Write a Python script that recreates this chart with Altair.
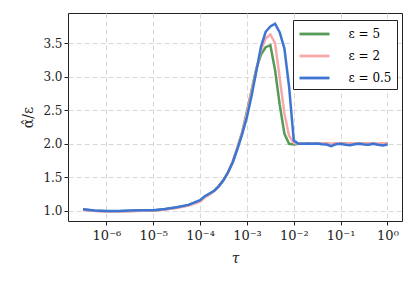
import altair as alt
import pandas as pd

# log10(tau) sample points
log_tau = [-6.5, -6.25, -6.0, -5.75, -5.5, -5.25, -5.0, -4.75, -4.5, -4.25,
           -4.0, -3.9, -3.8, -3.7, -3.6, -3.5, -3.4, -3.3, -3.2, -3.1,
           -3.0, -2.9, -2.8, -2.7, -2.6, -2.5, -2.4, -2.3, -2.2, -2.1,
           -2.0, -1.9, -1.8, -1.7, -1.6, -1.5, -1.4, -1.3, -1.2, -1.1,
           -1.0, -0.9, -0.8, -0.7, -0.6, -0.5, -0.4, -0.3, -0.2, -0.1, 0.0]

eps5 = [1.02, 1.003, 0.997, 0.997, 1.0, 1.005, 1.008, 1.025, 1.05, 1.085,
        1.15, 1.21, 1.25, 1.30, 1.37, 1.46, 1.58, 1.74, 1.95, 2.18,
        2.48, 2.80, 3.12, 3.33, 3.44, 3.47, 3.10, 2.58, 2.15, 2.00,
        1.99, 2.0, 2.005, 2.0, 2.005, 2.0, 2.0, 2.005, 1.995, 2.0,
        2.0, 2.005, 1.995, 2.0, 2.005, 2.0, 2.0, 2.005, 1.995, 2.0, 2.005]

eps2 = [1.015, 0.998, 0.992, 0.993, 0.997, 1.002, 1.005, 1.02, 1.045, 1.08,
        1.14, 1.20, 1.245, 1.295, 1.365, 1.455, 1.575, 1.74, 1.95, 2.17,
        2.45, 2.78, 3.10, 3.40, 3.57, 3.63, 3.50, 2.98, 2.45, 2.12,
        2.01, 2.005, 2.0, 2.01, 2.005, 2.0, 2.01, 2.005, 2.0, 2.01,
        2.005, 2.0, 2.01, 2.005, 2.0, 2.005, 2.01, 2.0, 2.005, 2.01, 2.01]

eps05 = [1.025, 1.008, 1.0, 1.0, 1.005, 1.01, 1.012, 1.03, 1.055, 1.09,
         1.16, 1.22, 1.26, 1.30, 1.37, 1.46, 1.58, 1.73, 1.93, 2.15,
         2.40, 2.72, 3.08, 3.45, 3.67, 3.75, 3.79, 3.66, 3.42, 2.85,
         2.05, 2.0, 2.0, 2.005, 2.0, 2.005, 1.995, 1.99, 1.965, 1.995,
         2.0, 1.985, 1.98, 1.995, 2.0, 1.99, 1.985, 2.0, 1.985, 1.975, 1.99]

series_names = ["ε = 5", "ε = 2", "ε = 0.5"]
series_colors = ["#559A57", "#F7A8A8", "#3E74D2"]

rows = []
for name, vals in zip(series_names, [eps5, eps2, eps05]):
    for lt, v in zip(log_tau, vals):
        rows.append({"tau": 10 ** lt, "ratio": v, "series": name, "order": series_names.index(name)})
df = pd.DataFrame(rows)

sup = {-6: "⁻⁶", -5: "⁻⁵", -4: "⁻⁴", -3: "⁻³", -2: "⁻²", -1: "⁻¹", 0: "⁰"}
expr = "'10' + ("
for k, s in sup.items():
    expr += f"round(log(datum.value)/LN10) == {k} ? '{s}' : "
expr += "'')"

FONT = "DejaVu Serif, Liberation Serif, serif"

chart = alt.Chart(df).mark_line(strokeWidth=2.5, clip=True).encode(
    x=alt.X("tau:Q",
            scale=alt.Scale(type="log", domain=[10 ** -6.82, 10 ** 0.31], nice=False),
            axis=alt.Axis(values=[1e-6, 1e-5, 1e-4, 1e-3, 1e-2, 1e-1, 1],
                          labelExpr=expr, title="τ", titleFontStyle="italic",
                          titlePadding=9, labelFontSize=13, labelPadding=4)),
    y=alt.Y("ratio:Q",
            scale=alt.Scale(domain=[0.85, 3.95], nice=False, zero=False),
            axis=alt.Axis(values=[1.0, 1.5, 2.0, 2.5, 3.0, 3.5], format=".1f",
                          title="α̂/ε", titlePadding=7)),
    color=alt.Color("series:N",
                    scale=alt.Scale(domain=series_names, range=series_colors),
                    legend=alt.Legend(title=None, orient="none", legendX=225, legendY=7,
                                      symbolType="M-2,0H2", symbolSize=225,
                                      symbolOffset=7.5, labelOffset=25,
                                      symbolStrokeWidth=2.8, labelFontSize=12,
                                      labelFont=FONT, rowPadding=7,
                                      strokeColor="#222222", fillColor="white",
                                      padding=5, cornerRadius=0)),
    detail="order:O",
    order="order:O",
).properties(
    width=334, height=208,
    autosize=alt.AutoSizeParams(type="none"),
    padding={"left": 60, "top": 5, "right": 6, "bottom": 52},
).configure_view(
    stroke="#222222", strokeWidth=1
).configure_axis(
    labelFont=FONT, titleFont=FONT, labelFontSize=12, titleFontSize=14,
    labelColor="#222222", titleColor="#222222",
    domain=False, tickColor="#222222", tickSize=4,
    grid=True, gridColor="#d8d8d8", gridDash=[5, 3], gridWidth=1,
    titleFontWeight="normal"
)

chart.save("out.html", embed_options={"renderer": "svg", "actions": False})
